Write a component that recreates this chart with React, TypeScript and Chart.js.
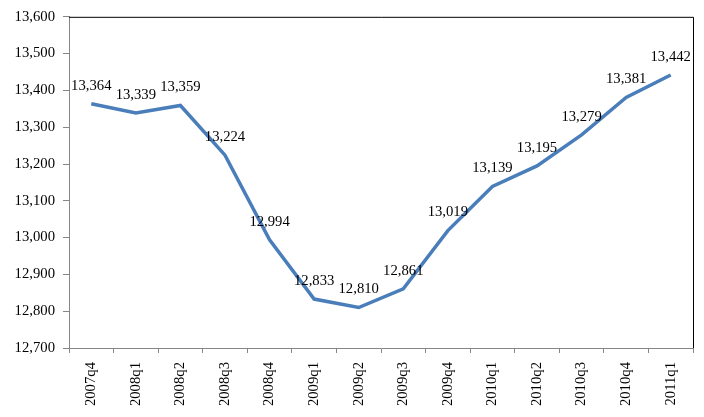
import React, { useEffect, useRef } from "react";
import { Chart, registerables } from "chart.js";

Chart.register(...registerables);

const categories = [
  "2007q4", "2008q1", "2008q2", "2008q3", "2008q4", "2009q1", "2009q2",
  "2009q3", "2009q4", "2010q1", "2010q2", "2010q3", "2010q4", "2011q1",
];
const values = [
  13364, 13339, 13359, 13224, 12994, 12833, 12810,
  12861, 13019, 13139, 13195, 13279, 13381, 13442,
];
const yMin = 12700;
const yMax = 13600;
const yStep = 100;

const FONT = "'Liberation Serif', 'Times New Roman', serif";
const fmt = (v: number) => v.toLocaleString("en-US");

const labelPlugin = {
  id: "dataLabels",
  afterDatasetsDraw(chart: any) {
    const ctx = chart.ctx;
    const meta = chart.getDatasetMeta(0);
    ctx.save();
    ctx.font = `14.7px ${FONT}`;
    ctx.fillStyle = "#000";
    ctx.textAlign = "center";
    ctx.textBaseline = "middle";
    meta.data.forEach((pt: any, i: number) => {
      ctx.fillText(fmt(values[i]), pt.x, pt.y - 18);
    });
    ctx.restore();
  },
};

const framePlugin = {
  id: "frame",
  afterDraw(chart: any) {
    const { ctx, chartArea } = chart;
    ctx.save();
    ctx.strokeStyle = "#000";
    ctx.lineWidth = 1;
    ctx.beginPath();
    ctx.moveTo(chartArea.left, chartArea.top + 0.5);
    ctx.lineTo(chartArea.right + 0.5, chartArea.top + 0.5);
    ctx.lineTo(chartArea.right + 0.5, chartArea.bottom);
    ctx.stroke();
    ctx.restore();
  },
};

export default function App() {
  const ref = useRef<HTMLCanvasElement>(null);
  useEffect(() => {
    if (!ref.current) return;
    const chart = new Chart(ref.current, {
      type: "line",
      data: {
        labels: categories,
        datasets: [
          {
            data: values,
            borderColor: "#4a7ebb",
            borderWidth: 3.5,
            pointRadius: 0,
            tension: 0,
            fill: false,
          },
        ],
      },
      options: {
        animation: false,
        responsive: false,
        layout: { padding: { top: 13, right: 11, left: 0, bottom: 0 } },
        plugins: { legend: { display: false }, tooltip: { enabled: false } },
        scales: {
          x: {
            type: "category",
            offset: true,
            grid: {
              offset: true,
              drawOnChartArea: false,
              drawTicks: true,
              tickLength: 5,
              color: "#868686",
            },
            border: { color: "#868686", width: 1 },
            ticks: {
              autoSkip: false,
              minRotation: 90,
              maxRotation: 90,
              padding: 9,
              color: "#000",
              font: { family: FONT, size: 14.7 },
            },
            afterFit: (scale: any) => {
              scale.height = 69;
            },
          },
          y: {
            min: yMin,
            max: yMax,
            grid: {
              drawOnChartArea: false,
              drawTicks: true,
              tickLength: 6,
              color: "#868686",
            },
            border: { color: "#868686", width: 1 },
            ticks: {
              stepSize: yStep,
              padding: 8,
              color: "#000",
              font: { family: FONT, size: 14.7 },
              callback: (v: any) => fmt(Number(v)),
            },
            afterFit: (scale: any) => {
              scale.width = 69;
            },
          },
        },
      },
      plugins: [labelPlugin, framePlugin],
    });
    return () => chart.destroy();
  }, []);
  return (
    <div style={{ position: "absolute", left: 0, top: 0, width: 704, height: 417, background: "#fff" }}>
      <canvas ref={ref} width={704} height={417} />
    </div>
  );
}
